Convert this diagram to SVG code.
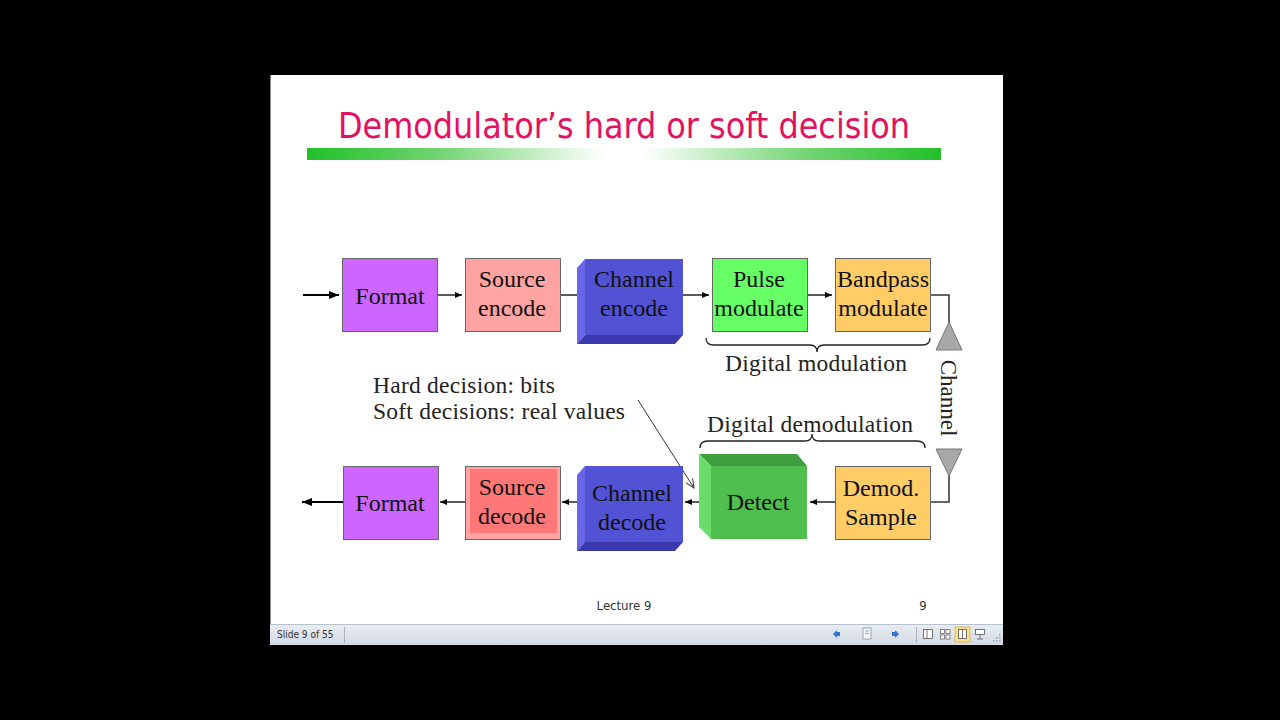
<svg xmlns="http://www.w3.org/2000/svg" width="1280" height="720" viewBox="0 0 1280 720">
<defs>
<linearGradient id="bar" x1="0" y1="0" x2="1" y2="0">
<stop offset="0" stop-color="#22C02A"/>
<stop offset="0.2" stop-color="#6ED36E"/>
<stop offset="0.47" stop-color="#ffffff"/>
<stop offset="0.53" stop-color="#ffffff"/>
<stop offset="0.8" stop-color="#6ED36E"/>
<stop offset="1" stop-color="#22C02A"/>
</linearGradient>
<linearGradient id="status" x1="0" y1="0" x2="0" y2="1">
<stop offset="0" stop-color="#E9EDF3"/>
<stop offset="1" stop-color="#D3DAE4"/>
</linearGradient>
<marker id="ah" markerWidth="8" markerHeight="8" refX="7" refY="4" orient="auto" markerUnits="userSpaceOnUse">
<path d="M0,1 L7,4 L0,7 Z" fill="#000"/>
</marker>
<marker id="ahb" markerWidth="11" markerHeight="10" refX="10" refY="5" orient="auto" markerUnits="userSpaceOnUse">
<path d="M0,1 L10,5 L0,9 Z" fill="#000"/>
</marker>
<marker id="aho" markerWidth="10" markerHeight="10" refX="9" refY="5" orient="auto" markerUnits="userSpaceOnUse">
<path d="M0,1 L9,5 L0,9" fill="none" stroke="#333" stroke-width="1"/>
</marker>
</defs>
<style>
.box{stroke:#666;stroke-width:1}
.lbl{font-family:"Liberation Serif","Times New Roman",serif;font-size:24px;fill:#111;text-anchor:middle}
.note{font-family:"Liberation Serif","Times New Roman",serif;font-size:23.5px;fill:#222}
.wire{stroke:#000;stroke-width:1.3;fill:none}
.brace{stroke:#222;stroke-width:1.3;fill:none}
.ant{fill:#A8A8A8;stroke:#777;stroke-width:1}
.sb{font-family:"DejaVu Sans","Liberation Sans",sans-serif;font-size:10px;fill:#333}
</style>
<rect width="1280" height="720" fill="#000"/>
<rect x="270" y="75" width="733" height="550" fill="#fff"/>
<line x1="270.5" y1="75" x2="270.5" y2="625" stroke="#888"/>

<g id="title">
<text x="624" y="138" text-anchor="middle" font-family="DejaVu Sans Condensed, DejaVu Sans, sans-serif" font-stretch="condensed" font-size="36" fill="#E3115F" textLength="572" lengthAdjust="spacingAndGlyphs">Demodulator’s hard or soft decision</text>
<rect x="307" y="148" width="634" height="12" fill="url(#bar)"/>
</g>

<g id="connectors">
<line x1="303" y1="295" x2="339" y2="295" stroke="#000" stroke-width="2" marker-end="url(#ahb)"/>
<line x1="437" y1="295" x2="462" y2="295" class="wire" marker-end="url(#ah)"/>
<line x1="560" y1="295" x2="580" y2="295" class="wire"/>
<line x1="683" y1="295" x2="709" y2="295" class="wire" marker-end="url(#ah)"/>
<line x1="807" y1="295" x2="832" y2="295" class="wire" marker-end="url(#ah)"/>
<polyline points="931,295 949,295 949,323" stroke="#333" stroke-width="1.5" fill="none"/>
<polyline points="949,475 949,502 931,502" stroke="#333" stroke-width="1.5" fill="none"/>
<line x1="835" y1="502" x2="810" y2="502" class="wire" marker-end="url(#ah)"/>
<line x1="710" y1="502" x2="685" y2="502" class="wire" marker-end="url(#ah)"/>
<line x1="580" y1="502" x2="562" y2="502" class="wire" marker-end="url(#ah)"/>
<line x1="465" y1="502" x2="440" y2="502" class="wire" marker-end="url(#ah)"/>
<line x1="343" y1="502" x2="302" y2="502" stroke="#000" stroke-width="2" marker-end="url(#ahb)"/>
<line x1="638" y1="400" x2="694" y2="488" stroke="#333" stroke-width="1" marker-end="url(#aho)"/>
</g>

<g id="format-tx">
<rect x="342.5" y="258.5" width="95" height="73" fill="#CC66FF" class="box"/>
<text x="390" y="304" class="lbl">Format</text>
</g>
<g id="source-encode">
<rect x="465.5" y="258.5" width="95" height="73" fill="#FFA3A3" class="box"/>
<text x="512" y="287" class="lbl">Source</text>
<text x="512" y="316" class="lbl">encode</text>
</g>
<g id="channel-encode">
<polygon points="585,259 683,259 683,335 585,335" fill="#5252D4"/>
<polygon points="577,268 585,259 585,335 577,344" fill="#6666E6"/>
<polygon points="577,344 585,335 683,335 675,344" fill="#3A3AAE"/>
<text x="634" y="287" class="lbl">Channel</text>
<text x="634" y="316" class="lbl">encode</text>
</g>
<g id="pulse-modulate">
<rect x="712.5" y="258.5" width="95" height="73" fill="#66FF66" class="box"/>
<text x="759" y="287" class="lbl">Pulse</text>
<text x="759" y="316" class="lbl">modulate</text>
</g>
<g id="bandpass-modulate">
<rect x="835.5" y="258.5" width="95" height="73" fill="#FFCC66" class="box"/>
<text x="883" y="287" class="lbl">Bandpass</text>
<text x="883" y="316" class="lbl">modulate</text>
</g>

<g id="digital-modulation">
<path d="M706,338 Q706,345 714,345 L810,345 Q817,345 817,352 Q817,345 824,345 L922,345 Q930,345 930,338" class="brace"/>
<text x="725" y="371" class="note" textLength="182" lengthAdjust="spacing">Digital  modulation</text>
</g>

<g id="channel">
<polygon points="949,322 962,350 936,350" class="ant"/>
<polygon points="936,449 962,449 949,476" class="ant"/>
<text transform="translate(941,398) rotate(90)" x="0" y="0" text-anchor="middle" font-family="Liberation Serif, Times New Roman, serif" font-size="23" fill="#222">Channel</text>
</g>

<g id="decision-note">
<text x="373" y="393" class="note" textLength="182" lengthAdjust="spacing">Hard decision: bits</text>
<text x="373" y="419" class="note" textLength="252" lengthAdjust="spacing">Soft decisions: real values</text>
</g>

<g id="digital-demodulation">
<text x="707" y="432" class="note" textLength="206" lengthAdjust="spacing">Digital  demodulation</text>
<path d="M700,448 Q700,441 708,441 L805,441 Q812,441 812,434 Q812,441 819,441 L917,441 Q925,441 925,448" class="brace"/>
</g>

<g id="format-rx">
<rect x="343.5" y="466.5" width="95" height="73" fill="#CC66FF" class="box"/>
<text x="390" y="511" class="lbl">Format</text>
</g>
<g id="source-decode">
<rect x="465.5" y="466.5" width="95" height="73" fill="#FFA3A3" class="box"/>
<rect x="470" y="469" width="87" height="64" fill="#FF7777"/>
<text x="512" y="495" class="lbl">Source</text>
<text x="512" y="524" class="lbl">decode</text>
</g>
<g id="channel-decode">
<polygon points="585,466 683,466 683,542 585,542" fill="#5252D4"/>
<polygon points="577,475 585,466 585,542 577,551" fill="#6666E6"/>
<polygon points="577,551 585,542 683,542 675,551" fill="#3A3AAE"/>
<text x="632" y="501" class="lbl">Channel</text>
<text x="632" y="530" class="lbl">decode</text>
</g>
<g id="detect">
<polygon points="711,466 807,466 807,539 711,539" fill="#4EBE4E"/>
<polygon points="699,454 797,454 807,466 711,466" fill="#3F9F3F"/>
<polygon points="699,454 711,466 711,539 699,527" fill="#6ADC6A"/>
<text x="758" y="510" class="lbl">Detect</text>
</g>
<g id="demod-sample">
<rect x="835.5" y="466.5" width="95" height="73" fill="#FFCC66" class="box"/>
<text x="881" y="496" class="lbl">Demod.</text>
<text x="881" y="525" class="lbl">Sample</text>
</g>

<g id="footer">
<text x="624" y="610" text-anchor="middle" font-family="DejaVu Sans Condensed, DejaVu Sans, sans-serif" font-size="13" fill="#333">Lecture 9</text>
<text x="923" y="610" text-anchor="middle" font-family="DejaVu Sans Condensed, DejaVu Sans, sans-serif" font-size="13" fill="#333">9</text>
</g>

<g id="statusbar">
<rect x="270" y="624" width="733" height="21" fill="url(#status)"/>
<line x1="270" y1="624.5" x2="1003" y2="624.5" stroke="#B8C2CE"/>
<text x="277" y="638" class="sb" font-stretch="condensed">Slide 9 of 55</text>
<line x1="344.5" y1="627" x2="344.5" y2="643" stroke="#A9B3BF"/>
<path d="M833,634 L837,630 L837,632 L840,632 L840,636 L837,636 L837,638 Z" fill="#2F76D2"/>
<rect x="863" y="628" width="8" height="11" fill="#F4F6F8" stroke="#8A96A4" stroke-width="0.8"/>
<line x1="865" y1="631" x2="869" y2="631" stroke="#8A96A4" stroke-width="0.8"/>
<line x1="865" y1="633.5" x2="869" y2="633.5" stroke="#8A96A4" stroke-width="0.8"/>
<path d="M899,634 L895,630 L895,632 L892,632 L892,636 L895,636 L895,638 Z" fill="#2F76D2"/>
<line x1="916.5" y1="627" x2="916.5" y2="643" stroke="#A9B3BF"/>
<rect x="923.5" y="629.5" width="9" height="9" fill="#fff" stroke="#555" stroke-width="0.8"/>
<line x1="927" y1="629.5" x2="927" y2="638.5" stroke="#555" stroke-width="0.8"/>
<rect x="940.5" y="629.5" width="4" height="4" fill="#fff" stroke="#555" stroke-width="0.7"/>
<rect x="946" y="629.5" width="4" height="4" fill="#fff" stroke="#555" stroke-width="0.7"/>
<rect x="940.5" y="635" width="4" height="4" fill="#fff" stroke="#555" stroke-width="0.7"/>
<rect x="946" y="635" width="4" height="4" fill="#fff" stroke="#555" stroke-width="0.7"/>
<rect x="955" y="627" width="15" height="15" fill="#FBE08A" stroke="#E0B040" stroke-width="0.8"/>
<rect x="958.5" y="629.5" width="8" height="9" fill="#fff" stroke="#555" stroke-width="0.8"/>
<line x1="962.5" y1="629.5" x2="962.5" y2="638.5" stroke="#555" stroke-width="0.8"/>
<rect x="975.5" y="629.5" width="9" height="5" fill="#fff" stroke="#555" stroke-width="0.8"/>
<line x1="980" y1="634.5" x2="980" y2="639" stroke="#555" stroke-width="0.8"/>
<line x1="977" y1="639" x2="983" y2="639" stroke="#555" stroke-width="0.8"/>
<g fill="#9AA4B0">
<rect x="999" y="640" width="1.5" height="1.5"/><rect x="996" y="640" width="1.5" height="1.5"/><rect x="999" y="637" width="1.5" height="1.5"/>
<rect x="993" y="640" width="1.5" height="1.5"/><rect x="996" y="637" width="1.5" height="1.5"/><rect x="999" y="634" width="1.5" height="1.5"/>
</g>
</g>
</svg>
